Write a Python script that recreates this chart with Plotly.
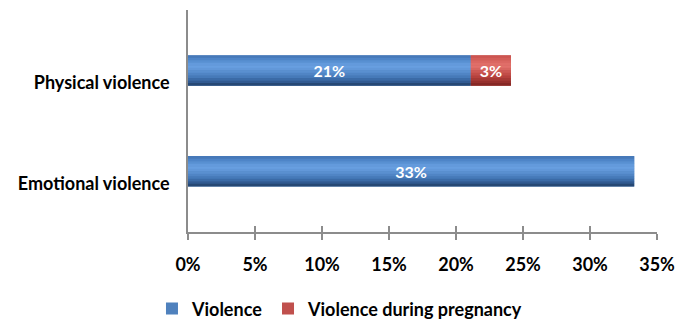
import plotly.graph_objects as go

categories = ["Emotional violence", "Physical violence"]
violence = [33.3, 21.1]
violence_pregnancy = [None, 3.0]
x_tick_values = [0, 5, 10, 15, 20, 25, 30, 35]
x_tick_labels = ["0%", "5%", "10%", "15%", "20%", "25%", "30%", "35%"]

FONT = "Lato"
LEGEND_FONT = dict(family=FONT, size=18, color="black", weight="bold")
LABEL_FONT = dict(family=FONT, size=16, color="white", weight="bold")
BAR_W = 0.3
N_SLICES = 12

# gradient stops (fraction from top of bar, colour) imitating the 3-D shading
BLUE_STOPS = [(0.0, (66, 115, 178)), (0.15, (81, 137, 204)), (0.35, (106, 161, 226)),
              (0.5, (95, 149, 214)), (0.7, (71, 124, 187)), (0.85, (52, 96, 154)),
              (1.0, (32, 63, 102))]
RED_STOPS = [(0.0, (201, 81, 77)), (0.35, (229, 116, 110)), (0.7, (184, 66, 62)),
             (1.0, (126, 36, 33))]


def shade(stops, t):
    for (t0, c0), (t1, c1) in zip(stops, stops[1:]):
        if t0 <= t <= t1:
            f = (t - t0) / (t1 - t0)
            return "rgb(%d,%d,%d)" % tuple(round(a + (b - a) * f) for a, b in zip(c0, c1))
    return "rgb(%d,%d,%d)" % stops[-1][1]


fig = go.Figure()
# base bars (also give the legend entries)
fig.add_trace(go.Bar(
    y=categories, x=violence, orientation="h", name="Violence",
    marker=dict(color="#4F81BD", line=dict(width=0)), width=BAR_W,
    legend="legend", hoverinfo="skip",
))
fig.add_trace(go.Bar(
    y=categories, x=violence_pregnancy, base=violence, orientation="h",
    name="Violence during pregnancy",
    marker=dict(color="#C0504D", line=dict(width=0)), width=BAR_W,
    legend="legend2", hoverinfo="skip",
))
# gradient slices of the same bars
slice_w = BAR_W / N_SLICES
for i in range(N_SLICES):
    t = (i + 0.5) / N_SLICES
    off = BAR_W / 2 - (i + 1) * slice_w
    fig.add_trace(go.Bar(
        y=categories, x=violence, orientation="h", width=slice_w * 1.08, offset=off,
        marker=dict(color=shade(BLUE_STOPS, t), line=dict(width=0)),
        showlegend=False, hoverinfo="skip",
    ))
    fig.add_trace(go.Bar(
        y=categories, x=violence_pregnancy, base=violence, orientation="h",
        width=slice_w * 1.08, offset=off,
        marker=dict(color=shade(RED_STOPS, t), line=dict(width=0)),
        showlegend=False, hoverinfo="skip",
    ))
# value labels
fig.add_trace(go.Bar(
    y=categories, x=violence, orientation="h", width=BAR_W,
    marker=dict(color="rgba(0,0,0,0)", line=dict(width=0)),
    texttemplate="%{x:.0f}%", textposition="inside", insidetextanchor="middle",
    textangle=0, textfont=LABEL_FONT, showlegend=False,
))
fig.add_trace(go.Bar(
    y=categories, x=violence_pregnancy, base=violence, orientation="h", width=BAR_W,
    marker=dict(color="rgba(0,0,0,0)", line=dict(width=0)),
    texttemplate="%{x:.0f}%", textposition="inside", insidetextanchor="middle",
    textangle=0, textfont=LABEL_FONT, showlegend=False,
))
# empty helper trace so the overlaid tick axis (inner half of cross ticks) is drawn
fig.add_trace(go.Scatter(x=[], y=[], xaxis="x2", yaxis="y", showlegend=False,
                         hoverinfo="skip"))

fig.update_layout(
    width=675, height=319, autosize=False,
    barmode="overlay",
    paper_bgcolor="white", plot_bgcolor="white",
    margin=dict(l=188, r=18, t=10, b=87, autoexpand=False),
    font=dict(family=FONT, size=18, color="black"),
    uniformtext=dict(minsize=14, mode="show"),
    showlegend=True,
    legend=dict(
        orientation="h", x=-0.0768, xanchor="left", y=-0.263, yanchor="top",
        font=LEGEND_FONT, itemwidth=30, bgcolor="rgba(0,0,0,0)",
    ),
    legend2=dict(
        orientation="h", x=0.1706, xanchor="left", y=-0.263, yanchor="top",
        font=LEGEND_FONT, itemwidth=30, bgcolor="rgba(0,0,0,0)",
    ),
    xaxis=dict(
        range=[0, 35], tickvals=x_tick_values, ticktext=x_tick_labels,
        showgrid=False, zeroline=False, automargin=False,
        showline=True, linecolor="#8C8C8C", linewidth=1.5,
        ticks="outside", ticklen=6, tickcolor="#8C8C8C", tickwidth=1.5,
        ticklabelstandoff=10, ticklabeloverflow="allow",
        tickfont=dict(family=FONT, size=18, color="black", weight="bold"),
        fixedrange=True,
    ),
    xaxis2=dict(
        range=[0, 35], tickvals=x_tick_values, overlaying="x", side="bottom",
        showgrid=False, zeroline=False, showline=False, automargin=False,
        ticks="inside", ticklen=6, tickcolor="#8C8C8C", tickwidth=1.5,
        showticklabels=False, anchor="y", fixedrange=True,
    ),
    yaxis=dict(
        categoryorder="array", categoryarray=categories,
        range=[-0.6, 1.6], automargin=False,
        showgrid=False, zeroline=False,
        showline=True, linecolor="#8C8C8C", linewidth=1.5,
        ticks="", ticklabelstandoff=13, ticklabelposition="outside bottom",
        tickfont=dict(family=FONT, size=18, color="black", weight="bold"),
        fixedrange=True,
    ),
)

fig.write_html(
    "out.html",
    config={"displayModeBar": False},
    post_script="document.body.style.margin='0';document.body.style.overflow='hidden';",
)
